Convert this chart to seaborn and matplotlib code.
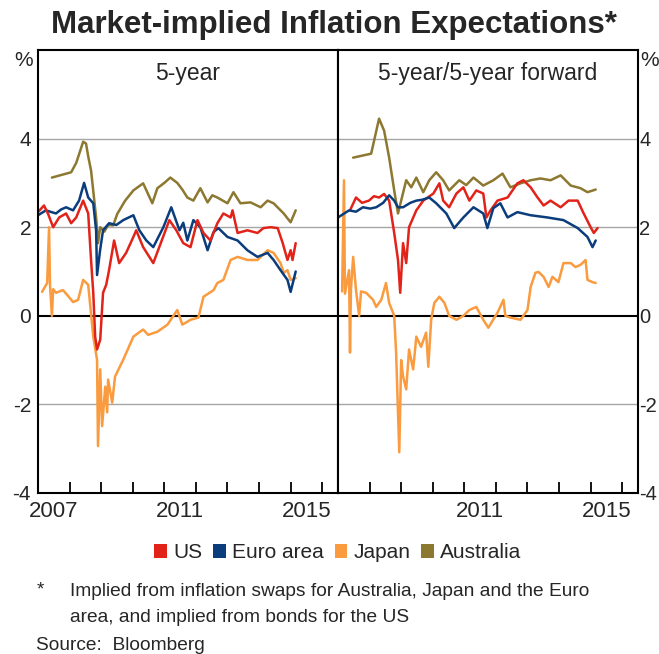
import pandas as pd
import seaborn as sns
import matplotlib.pyplot as plt
from matplotlib.patches import Patch

# colores de cada serie
colores = {"US": "#E2231A", "Euro area": "#0B3D7C", "Japan": "#F99B3E", "Australia": "#8C7830"}

# ---- panel izquierdo: 5-year ----
us_5y_t = [2007.0, 2007.19, 2007.32, 2007.48, 2007.67, 2007.89, 2008.05, 2008.21, 2008.43, 2008.59,
           2008.68, 2008.75, 2008.81, 2008.87, 2008.97, 2009.06, 2009.16, 2009.25, 2009.41, 2009.57,
           2009.79, 2010.02, 2010.11, 2010.33, 2010.65, 2010.84, 2011.16, 2011.38, 2011.60, 2011.83,
           2012.05, 2012.24, 2012.46, 2012.68, 2012.87, 2013.10, 2013.16, 2013.32, 2013.63, 2013.95,
           2014.14, 2014.37, 2014.59, 2014.75, 2014.90, 2015.0, 2015.06, 2015.16]
us_5y_v = [2.34, 2.49, 2.30, 2.00, 2.22, 2.31, 2.09, 2.22, 2.60, 2.31,
           1.26, 0.52, -0.47, -0.76, -0.54, 0.52, 0.70, 1.03, 1.70, 1.19,
           1.42, 1.78, 1.93, 1.55, 1.19, 1.55, 2.16, 1.93, 1.64, 1.55,
           2.16, 1.87, 1.70, 2.09, 2.31, 2.22, 2.38, 1.87, 1.93, 1.87,
           1.98, 2.00, 1.98, 1.64, 1.26, 1.48, 1.26, 1.64]

euro_5y_t = [2007.0, 2007.25, 2007.57, 2007.73, 2007.89, 2008.11, 2008.30, 2008.46, 2008.59, 2008.75,
             2008.84, 2008.87, 2008.97, 2009.06, 2009.25, 2009.48, 2009.70, 2010.02, 2010.21, 2010.43,
             2010.65, 2010.97, 2011.22, 2011.48, 2011.60, 2011.73, 2011.92, 2012.14, 2012.37, 2012.56,
             2012.71, 2013.0, 2013.32, 2013.63, 2013.95, 2014.27, 2014.46, 2014.68, 2014.90, 2015.0,
             2015.16]
euro_5y_v = [2.27, 2.38, 2.31, 2.40, 2.45, 2.38, 2.60, 3.00, 2.67, 2.54,
             1.93, 0.92, 1.50, 1.93, 2.09, 2.05, 2.16, 2.27, 1.93, 1.70,
             1.55, 2.00, 2.45, 1.93, 2.10, 1.70, 2.16, 2.00, 1.48, 1.89,
             1.98, 1.78, 1.70, 1.48, 1.33, 1.42, 1.26, 1.03, 0.81, 0.54,
             1.00]

japan_5y_t = [2007.13, 2007.29, 2007.35, 2007.38, 2007.44, 2007.48, 2007.57, 2007.79, 2007.95, 2008.11,
              2008.27, 2008.43, 2008.59, 2008.75, 2008.87, 2008.90, 2008.97, 2009.03, 2009.13, 2009.19,
              2009.22, 2009.35, 2009.44, 2009.70, 2010.02, 2010.33, 2010.49, 2010.78, 2011.10, 2011.41,
              2011.57, 2011.83, 2012.08, 2012.24, 2012.56, 2012.68, 2012.87, 2013.10, 2013.32, 2013.63,
              2013.95, 2014.27, 2014.46, 2014.68, 2014.78, 2014.90, 2015.0, 2015.16]
japan_5y_v = [0.54, 0.74, 2.00, 0.70, 0.00, 0.60, 0.52, 0.58, 0.45, 0.31,
              0.36, 0.81, 0.70, -0.47, -0.99, -2.94, -1.21, -2.49, -1.60, -2.18,
              -1.44, -1.96, -1.37, -0.99, -0.47, -0.31, -0.43, -0.36, -0.20, 0.13,
              -0.20, -0.09, -0.04, 0.43, 0.58, 0.74, 0.81, 1.26, 1.33, 1.26,
              1.26, 1.48, 1.42, 1.19, 0.97, 1.03, 0.81, 0.85]

aus_5y_t = [2007.44, 2008.05, 2008.21, 2008.43, 2008.52, 2008.59, 2008.68, 2008.84, 2008.90, 2008.97,
            2009.10, 2009.22, 2009.38, 2009.51, 2009.76, 2010.02, 2010.33, 2010.62, 2010.78, 2011.0,
            2011.19, 2011.41, 2011.57, 2011.73, 2011.92, 2012.14, 2012.37, 2012.52, 2012.68, 2013.0,
            2013.19, 2013.41, 2013.73, 2014.05, 2014.27, 2014.46, 2014.78, 2015.0, 2015.16]
aus_5y_v = [3.12, 3.24, 3.45, 3.93, 3.89, 3.60, 3.28, 2.22, 1.64, 2.00,
            1.90, 2.05, 2.04, 2.30, 2.60, 2.83, 2.99, 2.54, 2.88, 3.00,
            3.12, 3.00, 2.85, 2.67, 2.60, 2.88, 2.56, 2.72, 2.67, 2.54,
            2.79, 2.54, 2.56, 2.45, 2.60, 2.54, 2.31, 2.11, 2.38]

# ---- panel derecho: 5-year/5-year forward ----
us_fwd_t = [2007.38, 2007.57, 2007.76, 2007.98, 2008.14, 2008.30, 2008.46, 2008.62, 2008.78, 2008.90,
            2008.97, 2009.06, 2009.16, 2009.25, 2009.48, 2009.70, 2010.02, 2010.21, 2010.33, 2010.52,
            2010.75, 2010.97, 2011.16, 2011.38, 2011.60, 2011.70, 2011.83, 2012.05, 2012.37, 2012.68,
            2012.87, 2013.10, 2013.32, 2013.51, 2013.73, 2014.05, 2014.30, 2014.59, 2014.78, 2015.0,
            2015.10, 2015.22]
us_fwd_v = [2.38, 2.67, 2.55, 2.60, 2.70, 2.67, 2.75, 2.60, 1.87, 1.26,
            0.52, 1.64, 1.19, 2.00, 2.38, 2.60, 2.76, 2.99, 2.60, 2.45,
            2.76, 2.90, 2.60, 2.83, 2.76, 2.22, 2.38, 2.60, 2.67, 2.99,
            3.06, 2.90, 2.67, 2.49, 2.60, 2.45, 2.60, 2.60, 2.31, 2.00,
            1.87, 1.98]

euro_fwd_t = [2007.0, 2007.35, 2007.57, 2007.79, 2008.02, 2008.21, 2008.43, 2008.62, 2008.78, 2008.90,
              2009.06, 2009.29, 2009.48, 2009.67, 2009.89, 2010.11, 2010.43, 2010.68, 2010.97, 2011.29,
              2011.60, 2011.73, 2011.92, 2012.14, 2012.37, 2012.68, 2013.10, 2013.63, 2014.14, 2014.59,
              2014.90, 2015.06, 2015.16]
euro_fwd_v = [2.22, 2.38, 2.35, 2.45, 2.42, 2.45, 2.55, 2.72, 2.60, 2.45,
              2.45, 2.55, 2.60, 2.62, 2.67, 2.54, 2.31, 1.98, 2.22, 2.45,
              2.31, 1.98, 2.43, 2.54, 2.22, 2.34, 2.27, 2.22, 2.16, 1.98,
              1.78, 1.55, 1.70]

japan_fwd_t = [2007.13, 2007.19, 2007.22, 2007.35, 2007.38, 2007.41, 2007.48, 2007.57, 2007.67, 2007.73,
               2007.89, 2008.11, 2008.21, 2008.37, 2008.52, 2008.62, 2008.78, 2008.84, 2008.94, 2009.0,
               2009.06, 2009.16, 2009.25, 2009.38, 2009.48, 2009.63, 2009.79, 2009.86, 2009.95, 2010.05,
               2010.21, 2010.37, 2010.52, 2010.75, 2010.97, 2011.16, 2011.38, 2011.60, 2011.76, 2012.05,
               2012.24, 2012.30, 2012.46, 2012.78, 2013.0, 2013.10, 2013.25, 2013.35, 2013.51, 2013.67,
               2013.79, 2013.98, 2014.14, 2014.37, 2014.52, 2014.68, 2014.84, 2014.90, 2015.06, 2015.16]
japan_fwd_v = [0.55, 3.06, 0.50, 1.03, -0.83, 0.60, 1.33, 0.58, 0.00, 0.55,
               0.52, 0.36, 0.20, 0.36, 0.74, 0.29, 0.00, -0.83, -3.08, -1.00,
               -1.37, -1.66, -0.76, -1.21, -0.47, -0.70, -0.38, -1.15, -0.09, 0.29,
               0.43, 0.29, 0.00, -0.09, 0.00, 0.13, 0.20, -0.09, -0.27, 0.07,
               0.36, 0.00, -0.04, -0.09, 0.13, 0.65, 0.97, 0.99, 0.88, 0.65,
               0.88, 0.76, 1.19, 1.19, 1.10, 1.15, 1.26, 0.81, 0.76, 0.74]

aus_fwd_t = [2007.48, 2008.05, 2008.30, 2008.46, 2008.62, 2008.78, 2008.90, 2009.0, 2009.16, 2009.32,
             2009.48, 2009.70, 2009.89, 2010.11, 2010.33, 2010.52, 2010.84, 2011.06, 2011.29, 2011.60,
             2011.92, 2012.21, 2012.46, 2012.78, 2013.10, 2013.41, 2013.73, 2014.05, 2014.37, 2014.68,
             2014.90, 2015.16]
aus_fwd_v = [3.57, 3.66, 4.45, 4.18, 3.57, 2.83, 2.31, 2.60, 3.06, 2.90,
             3.12, 2.79, 3.06, 3.24, 3.06, 2.83, 3.06, 2.95, 3.12, 2.94,
             3.06, 3.21, 2.90, 2.99, 3.06, 3.10, 3.06, 3.17, 2.94, 2.88,
             2.79, 2.85]

y_ticks = [-4, -2, 0, 2, 4]
y_labels = ["-4", "-2", "0", "2", "4"]
year_ticks = list(range(2008, 2017))
left_year_pos = [2007.5, 2011.5, 2015.5]
left_year_lab = ["2007", "2011", "2015"]
right_year_pos = [2011.5, 2015.5]
right_year_lab = ["2011", "2015"]


def armar(series):
    partes = []
    for nombre, t, v in series:
        partes.append(pd.DataFrame({"year": t, "value": v, "series": nombre}))
    return pd.concat(partes, ignore_index=True)


df_5y = armar([("Japan", japan_5y_t, japan_5y_v), ("Australia", aus_5y_t, aus_5y_v),
               ("Euro area", euro_5y_t, euro_5y_v), ("US", us_5y_t, us_5y_v)])
df_fwd = armar([("Japan", japan_fwd_t, japan_fwd_v), ("Australia", aus_fwd_t, aus_fwd_v),
                ("US", us_fwd_t, us_fwd_v), ("Euro area", euro_fwd_t, euro_fwd_v)])

sns.set_style("white")
plt.rcParams["font.family"] = ["Liberation Sans", "DejaVu Sans"]

fig = plt.figure(figsize=(6.59, 6.54), dpi=100)
ax1 = fig.add_axes([38 / 659, 1 - 493 / 654, 300 / 659, 443 / 654])
ax2 = fig.add_axes([338 / 659, 1 - 493 / 654, 300 / 659, 443 / 654])

for ax, df, titulo in [(ax1, df_5y, "5-year"), (ax2, df_fwd, "5-year/5-year forward")]:
    for g in [4, 2, -2]:
        ax.axhline(g, color="#A6A6A6", lw=1.0, zorder=1)
    ax.axhline(0, color="black", lw=1.5, zorder=1)
    sns.lineplot(data=df, x="year", y="value", hue="series", palette=colores,
                 estimator=None, sort=False, linewidth=1.8, legend=False, ax=ax, zorder=2)
    ax.set_xlim(2007, 2016.5)
    ax.set_ylim(-4, 6)
    ax.set_xlabel("")
    ax.set_ylabel("")
    ax.set_xticks(year_ticks)
    ax.set_xticklabels([])
    ax.tick_params(axis="x", which="major", direction="in", length=8, width=1.3,
                   color="black", bottom=True, top=False)
    ax.tick_params(axis="x", which="minor", length=0, pad=6, labelsize=16)
    ax.set_yticks(y_ticks)
    ax.tick_params(axis="y", length=0, labelsize=15)
    for s in ax.spines.values():
        s.set_color("black")
        s.set_linewidth(1.5)
    ax.text(0.5, 0.948, titulo, transform=ax.transAxes, ha="center", va="center", fontsize=16.5)

ax1.set_xticks(left_year_pos, minor=True)
ax1.set_xticklabels(left_year_lab, minor=True)
ax2.set_xticks(right_year_pos, minor=True)
ax2.set_xticklabels(right_year_lab, minor=True)

ax1.set_yticklabels(y_labels)
ax1.tick_params(axis="y", pad=5)
ax2.yaxis.tick_right()
ax2.set_yticklabels(y_labels)
ax2.tick_params(axis="y", pad=1, length=0, labelsize=14.5)

fig.text(24 / 659, 1 - 61 / 654, "%", ha="center", va="center", fontsize=15)
fig.text(650 / 659, 1 - 61 / 654, "%", ha="center", va="center", fontsize=15)

fig.text(0.507, 1 - 25 / 654, "Market-implied Inflation Expectations*", ha="center", va="center",
         fontsize=22.5, fontweight="bold")

handles = [Patch(facecolor=colores[k], edgecolor="none", label=k)
           for k in ["US", "Euro area", "Japan", "Australia"]]
fig.legend(handles=handles, loc="center", bbox_to_anchor=(338 / 659, 1 - 553 / 654), ncol=4,
           frameon=False, fontsize=15, handlelength=0.62, handleheight=0.62,
           handletextpad=0.3, columnspacing=0.5, borderaxespad=0)

fig.text(40 / 659, 1 - 590 / 654, "*", ha="center", va="center", fontsize=13.5)
fig.text(70 / 659, 1 - 592 / 654, "Implied from inflation swaps for Australia, Japan and the Euro",
         ha="left", va="center", fontsize=13.8)
fig.text(70 / 659, 1 - 617 / 654, "area, and implied from bonds for the US",
         ha="left", va="center", fontsize=13.8)
fig.text(36 / 659, 1 - 646 / 654, "Source:  Bloomberg", ha="left", va="center", fontsize=13.8)

fig.savefig("out.png", dpi=100)
plt.close()
